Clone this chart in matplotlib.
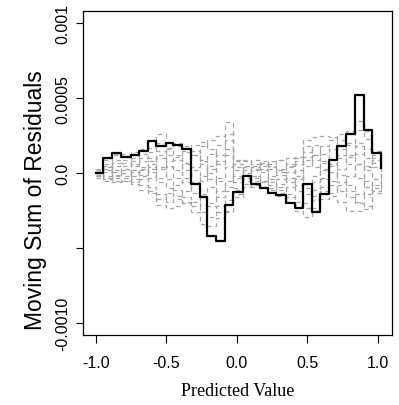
import numpy as np
import matplotlib
matplotlib.use("Agg")
import matplotlib.pyplot as plt

# predicted values (step positions)
pred = [-1.0, -0.951, -0.881, -0.817, -0.753, -0.692, -0.628, -0.569, -0.503,
        -0.451, -0.385, -0.321, -0.262, -0.208, -0.144, -0.080, -0.026, 0.045,
        0.104, 0.163, 0.222, 0.281, 0.347, 0.411, 0.470, 0.533, 0.593, 0.654,
        0.711, 0.777, 0.836, 0.902, 0.961, 1.025]

# observed moving sum of residuals (units of 1e-4)
observed = [0.0, 1.01, 1.36, 1.06, 1.18, 1.46, 2.13, 1.84, 2.02, 1.91, 1.58,
            -0.75, -1.60, -4.19, -4.52, -2.15, -1.25, -0.20, -0.72, -1.02,
            -1.35, -1.48, -1.97, -2.35, -0.70, -2.59, -1.42, 0.88, 1.84, 2.64,
            5.23, 2.89, 1.36, 0.36]

# simulated paths (units of 1e-4)
sim1 = [0.2, 1.0, 1.2, 1.3, 1.4, 1.6, 1.7, 2.6, 1.9, 1.8, 1.5, 1.2, 1.8, 2.2, 2.5, 3.4, 0.9, 0.8, 0.6, 0.5, 0.3, 0.1, -0.3, -0.8, 0.5, 1.2, 1.8, 2.2, 2.6, 2.8, 3.5, 2.8, 1.5, 0.9]
sim2 = [-0.2, -0.4, -0.5, -0.5, -0.7, -1.1, -1.3, -2.1, -2.3, -2.2, -2.0, -2.6, -3.4, -3.5, -3.0, -2.5, -1.6, -0.9, -0.8, -1.0, -1.3, -1.5, -1.9, -2.5, -2.9, -2.3, -1.7, -1.5, -1.9, -2.5, -2.5, -2.4, -1.2, -0.5]
sim3 = [0.1, 0.6, 0.9, 0.7, 0.5, 0.2, -0.3, 0.4, 0.8, 1.1, 1.4, 1.9, 2.1, 1.6, 0.8, 1.2, 0.4, 0.2, -0.2, -0.5, -0.8, -1.1, -0.9, -0.4, 0.9, 0.4, -0.3, -0.8, -1.2, -1.6, -2.0, -1.4, -0.8, -0.3]
sim4 = [-0.1, 0.2, -0.3, -0.5, -0.2, 0.3, 0.8, 1.5, 1.2, 0.9, 0.2, -0.6, -1.4, -2.2, -2.6, -1.8, -1.0, -0.4, 0.2, 0.6, 0.8, 0.9, 1.0, 1.1, 2.2, 2.4, 2.5, 2.4, 1.8, 1.2, 0.6, 0.2, -0.4, 0.1]
sim5 = [0.3, 0.9, 1.3, 1.1, 0.8, 0.4, 0.1, -0.6, -1.0, -1.5, -1.9, -2.2, -2.6, -2.0, -1.2, -0.5, -0.2, 0.5, 0.9, 0.7, 0.4, 0.2, 0.5, 0.8, 1.4, 0.9, 0.3, 0.6, 1.2, 2.0, 2.9, 2.3, 1.0, 0.6]
sim6 = [0.0, -0.5, -0.2, 0.3, 0.6, 1.0, 1.4, 2.0, 1.6, 1.2, 0.7, 0.2, -0.5, 0.3, 1.2, 2.2, 0.6, -0.1, -0.5, -0.9, -1.1, -0.7, -0.3, 0.2, -1.0, -1.8, -1.2, -0.5, 0.3, 1.1, 1.8, 1.0, 0.4, -0.2]
sim7 = [-0.3, 0.3, 0.5, 0.2, -0.4, -0.8, -1.2, -1.7, -1.3, -0.8, -0.3, 0.4, 0.9, 1.3, 1.9, 2.6, 0.2, -0.5, -0.9, -0.6, -0.2, 0.3, 0.6, 1.0, 1.8, 1.2, 0.7, 0.1, -0.6, -1.2, -1.9, -2.2, -1.0, -0.4]
sim8 = [0.1, -0.2, 0.1, 0.5, 1.0, 1.3, 1.0, 0.3, -0.4, -1.1, -1.6, -1.9, -1.5, -0.9, -0.3, 0.4, -0.6, 0.0, 0.4, 0.1, -0.4, -0.9, -1.4, -1.9, -2.3, -1.1, -0.4, 0.5, 1.0, 0.6, -0.3, -0.9, -0.4, 0.3]
sim9 = [-0.2, 0.5, 0.2, -0.2, 0.1, -0.4, -0.9, -1.4, -1.9, -1.7, -1.2, -0.7, -0.2, 0.5, -0.5, -1.2, -1.4, -0.7, -0.3, -0.6, -1.0, -1.3, -1.6, -2.1, -1.4, -0.6, 0.2, 0.9, 1.6, 1.9, 1.3, 0.5, 1.2, 0.6]
sim10 = [0.2, 0.1, 0.7, 0.9, 1.2, 0.8, 0.4, 1.0, 1.7, 2.0, 1.8, 1.2, 0.6, -0.4, -1.6, -0.9, 0.8, 0.9, 0.5, 0.2, 0.6, 0.9, 0.4, -0.2, -0.7, -0.2, 0.8, 1.6, 2.2, 2.6, 2.0, 1.6, 0.7, 0.2]
sim11 = [0.0, -0.3, -0.6, -0.3, 0.2, -0.2, 0.3, -0.3, 0.5, 0.2, -0.6, -1.3, -2.1, -2.9, -2.2, -2.6, -1.1, -0.3, 0.3, 0.8, 0.5, -0.1, -0.6, -1.2, -2.0, -1.5, -0.9, -1.3, -0.8, -0.2, 0.6, -0.5, -1.3, -0.6]
sim12 = [0.1, 0.4, -0.1, 0.0, -0.6, -0.1, 0.6, 1.2, 0.4, -0.3, 0.6, 1.5, 0.8, 0.0, 0.6, 1.6, -0.3, 0.4, -0.2, 0.3, -0.6, -0.4, 0.1, 0.6, 1.1, 1.9, 1.3, 0.6, -0.1, -0.8, -1.4, 0.4, 0.9, 0.4]
sims = [sim1, sim2, sim3, sim4, sim5, sim6, sim7, sim8, sim9, sim10, sim11, sim12]

yticks = [-0.001, -0.0005, 0.0, 0.0005, 0.001]
ytick_labels = ["-0.0010", "", "0.0", "0.0005", "0.001"]
xticks = [-1.0, -0.5, 0.0, 0.5, 1.0]

fig = plt.figure(figsize=(3.99, 4.06), dpi=100)
ax = fig.add_axes([0.208, 0.172, 0.774, 0.798])

x = np.array(pred)
for s in sims:
    ax.step(x, np.array(s) * 1e-4, where="post", color="#a6a6a6",
            lw=0.9, linestyle=(0, (3.5, 3)))
ax.step(x, np.array(observed) * 1e-4, where="post", color="black", lw=1.6)

ax.set_xlim(-1.09, 1.10)
ax.set_ylim(-0.00108, 0.00108)

ax.set_yticks(yticks)
ax.set_yticklabels(ytick_labels, rotation=90, va="center",
                   family="Liberation Sans", fontsize=11.5)
ax.set_xticks(xticks)
ax.set_xticklabels(["%.1f" % t for t in xticks], family="Liberation Sans",
                   fontsize=11.5)
ax.tick_params(axis="x", direction="out", length=5.5, width=0.8, pad=9)
ax.tick_params(axis="y", direction="out", length=5, width=0.8, pad=4)

ax.set_ylabel("Moving Sum of Residuals", family="Liberation Sans",
              fontsize=16.5)
ax.yaxis.set_label_coords(-0.118, 0.42)
ax.set_xlabel("Predicted Value", family="Liberation Serif", fontsize=13)
ax.xaxis.set_label_coords(0.5, -0.145)

for sp in ax.spines.values():
    sp.set_linewidth(0.9)

fig.savefig("out.png", dpi=100)
